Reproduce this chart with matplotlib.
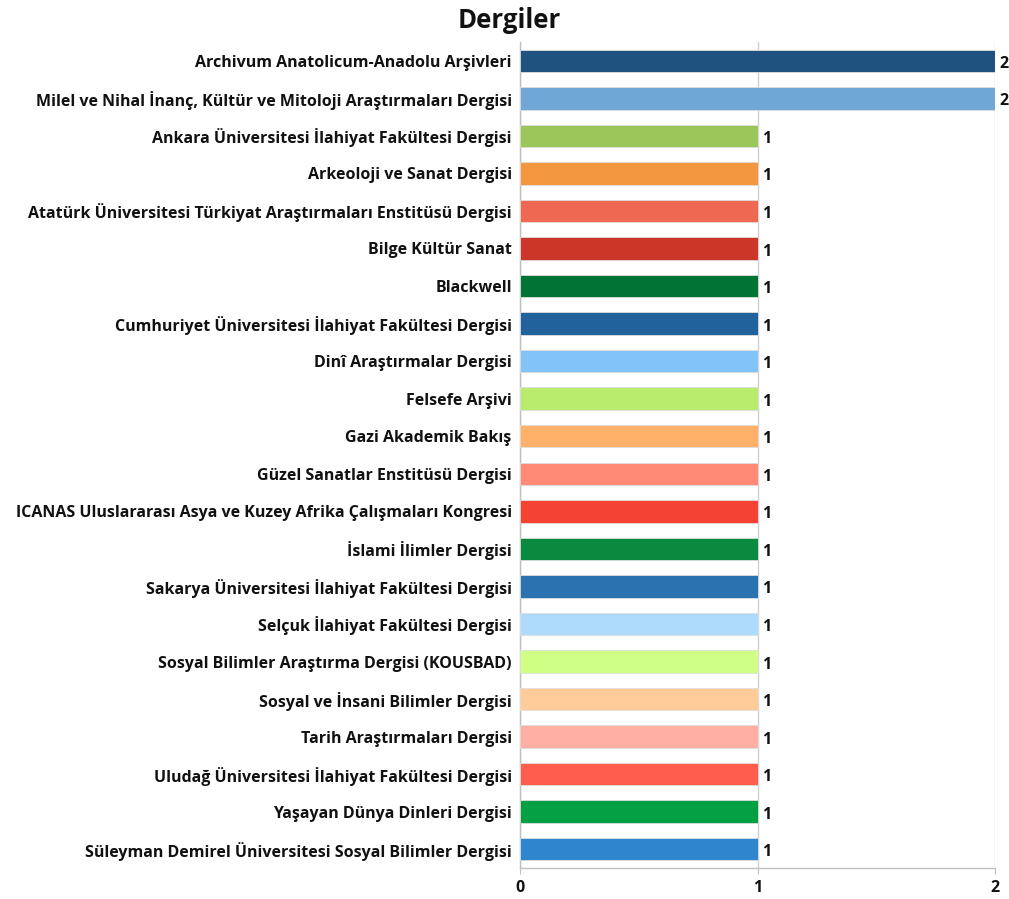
import matplotlib
matplotlib.use("Agg")
import matplotlib.pyplot as plt

plt.rcParams["font.family"] = ["Open Sans", "DejaVu Sans"]

title = "Dergiler"
journals = [
    "Archivum Anatolicum-Anadolu Arşivleri",
    "Milel ve Nihal İnanç, Kültür ve Mitoloji Araştırmaları Dergisi",
    "Ankara Üniversitesi İlahiyat Fakültesi Dergisi",
    "Arkeoloji ve Sanat Dergisi",
    "Atatürk Üniversitesi Türkiyat Araştırmaları Enstitüsü Dergisi",
    "Bilge Kültür Sanat",
    "Blackwell",
    "Cumhuriyet Üniversitesi İlahiyat Fakültesi Dergisi",
    "Dinî Araştırmalar Dergisi",
    "Felsefe Arşivi",
    "Gazi Akademik Bakış",
    "Güzel Sanatlar Enstitüsü Dergisi",
    "ICANAS Uluslararası Asya ve Kuzey Afrika Çalışmaları Kongresi",
    "İslami İlimler Dergisi",
    "Sakarya Üniversitesi İlahiyat Fakültesi Dergisi",
    "Selçuk İlahiyat Fakültesi Dergisi",
    "Sosyal Bilimler Araştırma Dergisi (KOUSBAD)",
    "Sosyal ve İnsani Bilimler Dergisi",
    "Tarih Araştırmaları Dergisi",
    "Uludağ Üniversitesi İlahiyat Fakültesi Dergisi",
    "Yaşayan Dünya Dinleri Dergisi",
    "Süleyman Demirel Üniversitesi Sosyal Bilimler Dergisi",
]
counts = [2, 2, 1, 1, 1, 1, 1, 1, 1, 1, 1, 1, 1, 1, 1, 1, 1, 1, 1, 1, 1, 1]
colors = [
    "#1F527F", "#6FA8D6", "#9BC75A", "#F39640", "#EF6852", "#CB3628",
    "#007434", "#22629C", "#82C4F8", "#B9EC6C", "#FFB169", "#FF8A75",
    "#F44332", "#0A8A3E", "#2B72B0", "#AEDAFC", "#CFFF84", "#FFCB98",
    "#FFAFA3", "#FF5E4E", "#04A043", "#2F86CE",
]
x_ticks = [0, 1, 2]

fig = plt.figure(figsize=(10.09, 8.99), dpi=100)
ax = fig.add_axes([520 / 1009, 31 / 899, 475 / 1009, 826 / 899])

pos = list(range(len(journals)))
ax.barh(pos, counts, height=0.6, color=colors, edgecolor="#DDDDDD", linewidth=0.6, zorder=3)
for p, v in zip(pos, counts):
    ax.text(v + 0.02, p + 0.08, str(v), va="center", ha="left", fontsize=11.5, fontweight="bold", color="#111111")

ax.set_ylim(len(journals) - 0.5, -0.5)
ax.set_xlim(0, 2)
ax.set_yticks(pos)
ax.set_yticklabels(journals, fontsize=11.5, fontweight="bold", color="#111111")
ax.set_xticks(x_ticks)
ax.set_xticklabels([str(t) for t in x_ticks], fontsize=11.5, fontweight="bold", color="#111111")
ax.tick_params(axis="y", length=0, pad=6)
ax.tick_params(axis="x", length=4, color="#C0C0C0", pad=5)
ax.grid(axis="x", color="#D0D0D0", linewidth=1, zorder=0)
for s in ["top", "right"]:
    ax.spines[s].set_visible(False)
for s in ["left", "bottom"]:
    ax.spines[s].set_color("#C0C0C0")
    ax.spines[s].set_linewidth(1)

fig.text(0.505, 0.977, title, ha="center", va="center", fontsize=18.5, fontweight="bold", color="#111111")

fig.savefig("out.png", dpi=100)
